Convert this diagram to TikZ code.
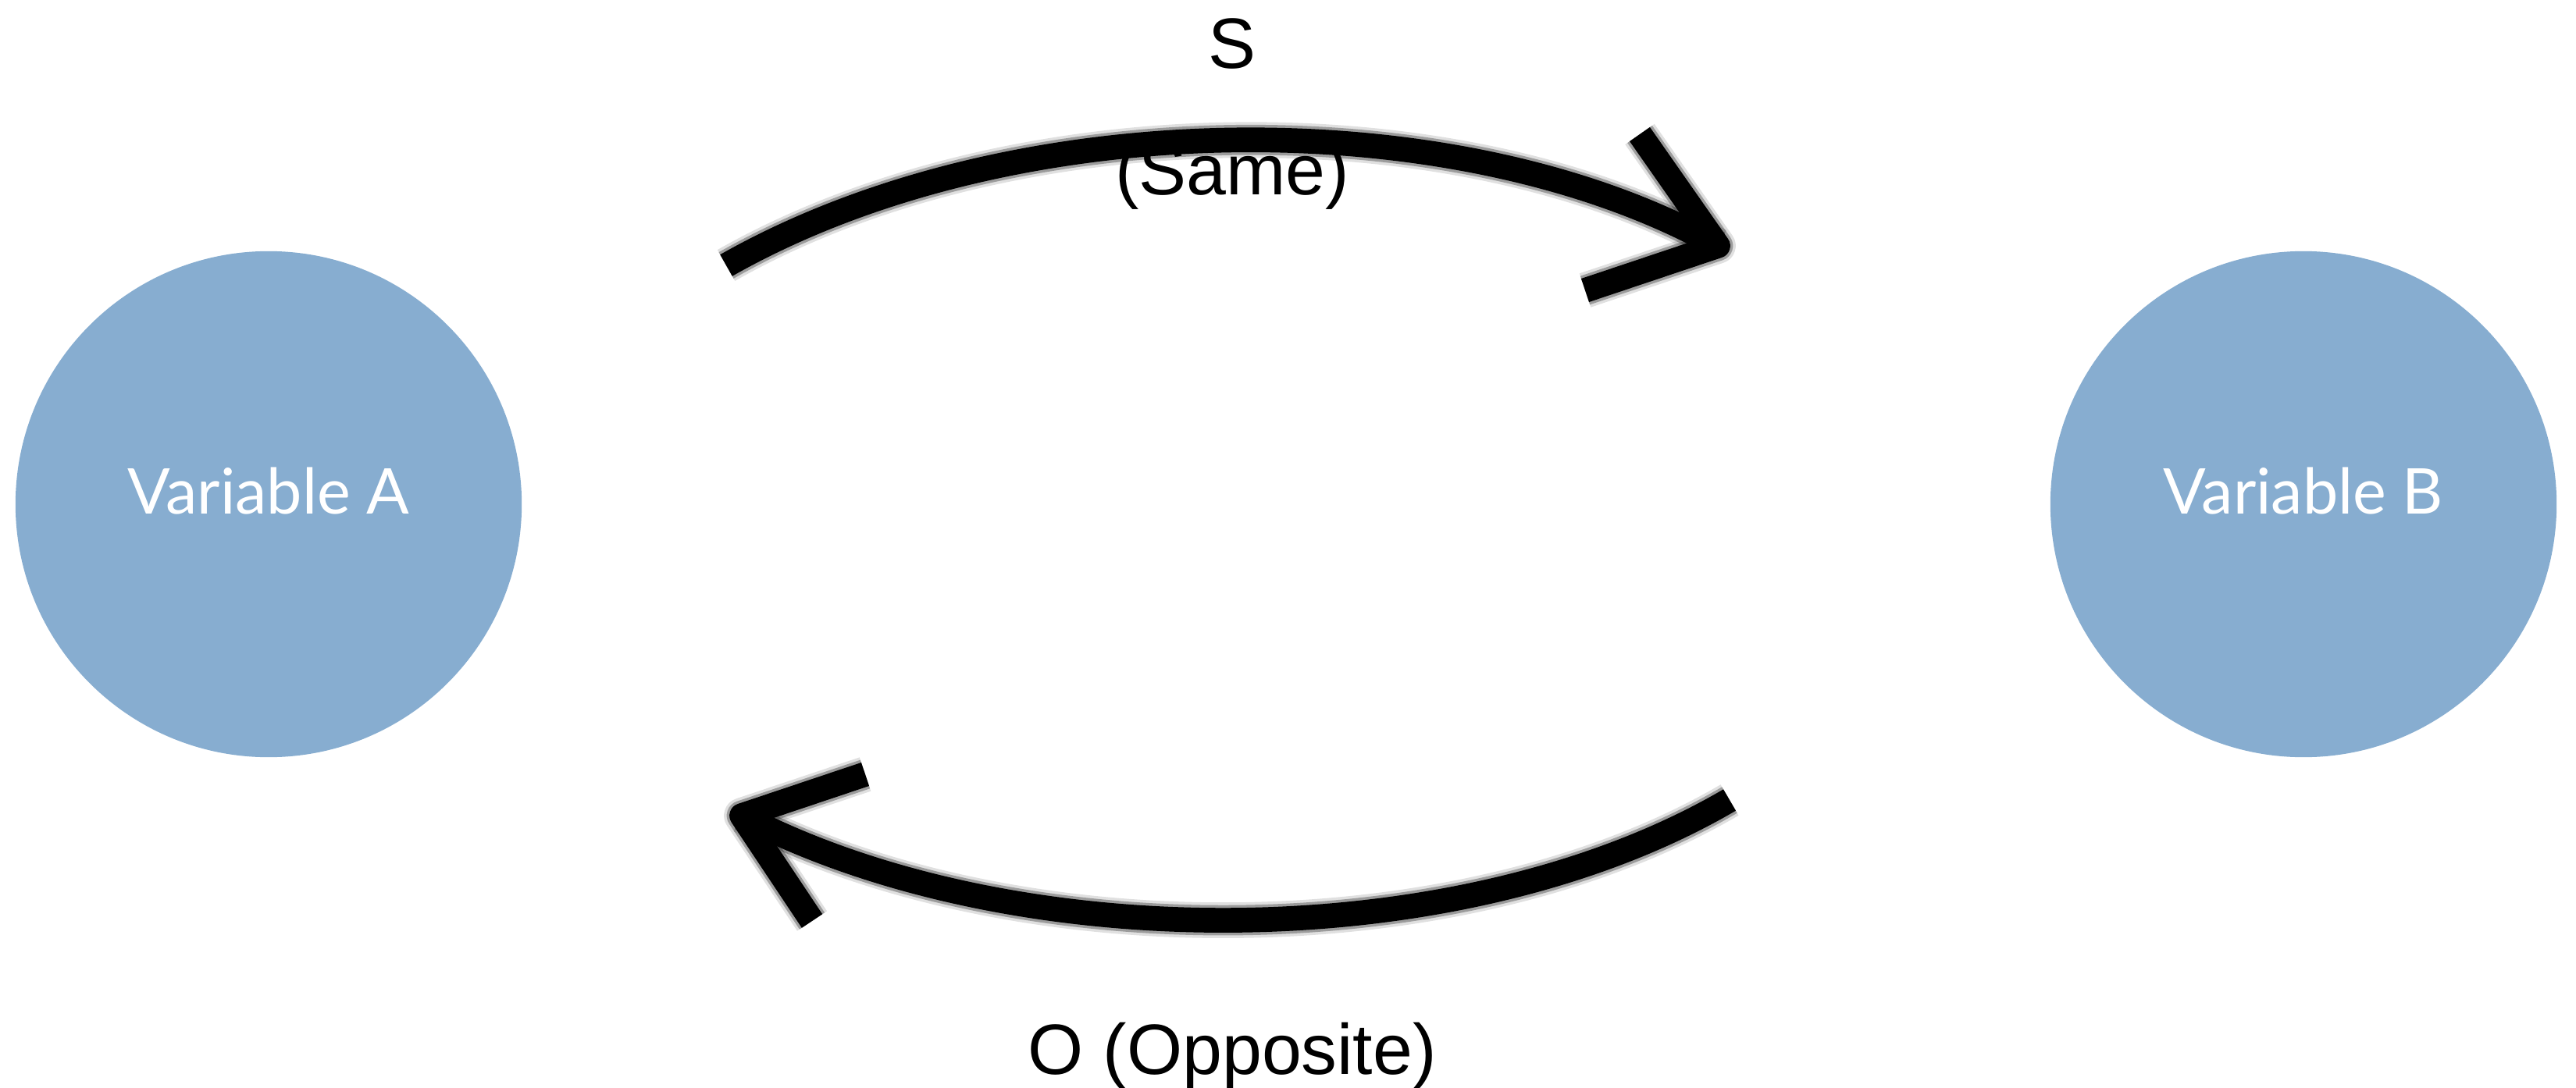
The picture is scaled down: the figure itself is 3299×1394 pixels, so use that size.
\documentclass[tikz,border=0pt]{standalone}
\usepackage{fontspec}
\setmainfont{Liberation Sans}
\newfontfamily\latofont{Lato}
\usetikzlibrary{calc}
\definecolor{varblue}{RGB}{135,173,208}
\tikzset{
  varnode/.style={circle,fill=varblue,minimum size=6.48cm,inner sep=0pt,
    text=white,font=\latofont\fontsize{23}{27}\selectfont},
  arrlabel/.style={anchor=base,font=\fontsize{26}{30}\selectfont}
}

\begin{document}
\begin{tikzpicture}[x=0.01cm,y=-0.01cm]
    \useasboundingbox (0,0) rectangle (3299,1394);
    \node[varnode](varA) at (344,646){\raisebox{10pt}{Variable A}};
    \node[varnode](varB) at (2950,646){\raisebox{10pt}{Variable B}};
    % ends of the two arcs
    \coordinate(sameL) at (930,340);
    \coordinate(sameR) at (2200,315);
    \coordinate(sameBa) at (2100,172);
    \coordinate(sameBb) at (2030,372);
    \coordinate(oppR) at (2215,1025);
    \coordinate(oppL) at (950,1045);
    \coordinate(oppBa) at (1108,992);
    \coordinate(oppBb) at (1040,1180);
    % soft brush strokes
    \foreach \w/\op in {13pt/0.12,11pt/0.3,9pt/1}{
      \draw[line width=\w,opacity=\op](sameL)..controls(1300,130)and(1870,130)..(sameR);
      \draw[line width=\w,opacity=\op,line join=round](sameBa)--(sameR)--(sameBb);
      \draw[line width=\w,opacity=\op](oppR)..controls(1870,1227)and(1300,1227)..(oppL);
      \draw[line width=\w,opacity=\op,line join=round](oppBa)--(oppL)--(oppBb);
    }
    \node[arrlabel](same) at (1578,88){S};
    \node[arrlabel](sameTxt) at (1578,250){(Same)};
    \node[arrlabel](opp) at (1578,1376){O (Opposite)};
  \end{tikzpicture}
\end{document}
